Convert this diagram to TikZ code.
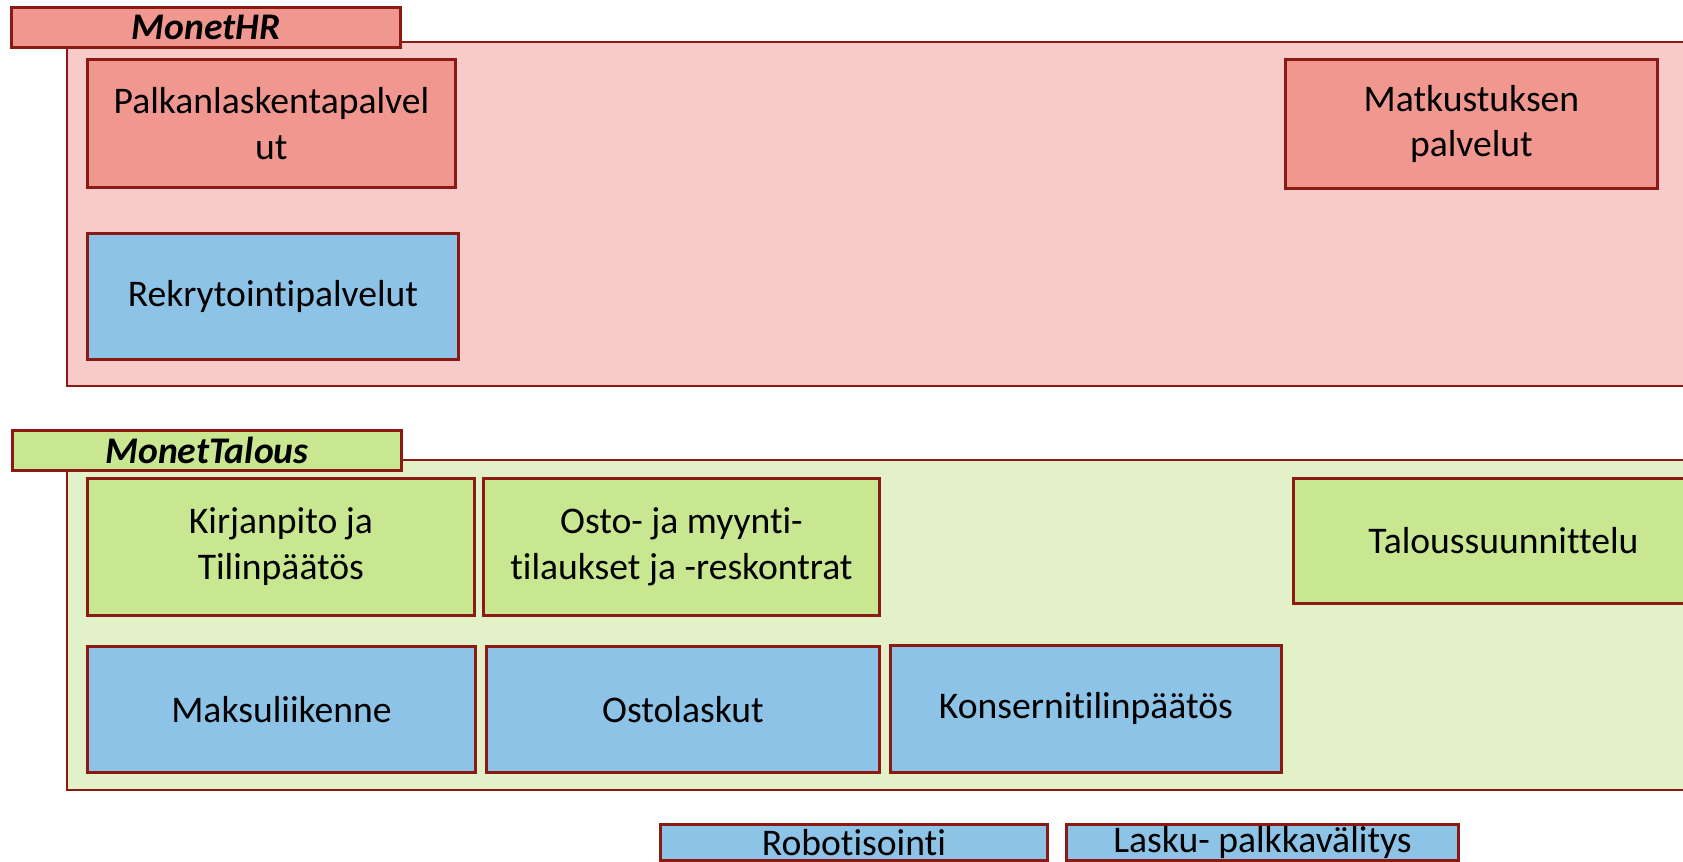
\documentclass[tikz,border=0pt]{standalone}
\usepackage{fontspec}
\setmainfont{Carlito}[Ligatures={NoCommon}]
\definecolor{edge}{RGB}{140,26,20}
\definecolor{hrback}{RGB}{247,203,201}
\definecolor{hrbox}{RGB}{240,152,144}
\definecolor{talback}{RGB}{227,241,201}
\definecolor{talbox}{RGB}{201,231,145}
\definecolor{bluebox}{RGB}{141,195,230}

\begin{document}
\begin{tikzpicture}[x=0.01cm,y=-0.01cm]
\tikzstyle{every node}=[draw=edge,line width=0.75pt,inner sep=0pt,align=center,anchor=north west,font=\fontsize{10.7}{13}\selectfont];
\tikzstyle{tab}=[minimum width=3.89cm,minimum height=0.40cm,font=\fontsize{10.7}{13}\selectfont\bfseries\itshape];
\useasboundingbox (0,0) rectangle (1683,861);
\clip (0,0) rectangle (1683,861);
% MonetHR
\draw[draw=edge,line width=0.75pt,fill=hrback] (67,42) rectangle (1720,386);
\node[tab,fill=hrbox] (hrtab) at (10,6) {MonetHR};
\node[fill=hrbox,minimum width=3.68cm,minimum height=1.28cm] (palkka) at (86,58) {Palkanlaskentapalvel\\ut};
\node[fill=hrbox,minimum width=3.72cm,minimum height=1.29cm] (matka) at (1284,58) {Matkustuksen\\palvelut};
\node[fill=bluebox,minimum width=3.71cm,minimum height=1.26cm] (rekry) at (86,232) {Rekrytointipalvelut};
% MonetTalous
\draw[draw=edge,line width=0.75pt,fill=talback] (67,460) rectangle (1720,790);
\node[tab,fill=talbox] (taltab) at (11,429) {MonetTalous};
\node[fill=talbox,minimum width=3.87cm,minimum height=1.37cm] (kirja) at (86,477) {Kirjanpito ja\\Tilinpäätös};
\node[fill=talbox,minimum width=3.96cm,minimum height=1.37cm] (osto) at (482,477) {Osto- ja myynti-\\tilaukset ja -reskontrat};
\node[fill=talbox,minimum width=4.20cm,minimum height=1.25cm] (suunn) at (1292,477) {Taloussuunnittelu};
\node[fill=bluebox,minimum width=3.88cm,minimum height=1.26cm] (maksu) at (86,645) {Maksuliikenne};
\node[fill=bluebox,minimum width=3.93cm,minimum height=1.26cm] (ostol) at (485,645) {Ostolaskut};
\node[fill=bluebox,minimum width=3.91cm,minimum height=1.27cm] (konserni) at (889,644) {Konsernitilinpäätös};
% alaosa
\node[fill=bluebox,minimum width=3.87cm,minimum height=0.36cm] (robo) at (659,823) {Robotisointi};
\node[fill=bluebox,minimum width=3.92cm,minimum height=0.36cm] (lasku) at (1065,823) {Lasku- palkkavälitys};
\end{tikzpicture}
\end{document}
